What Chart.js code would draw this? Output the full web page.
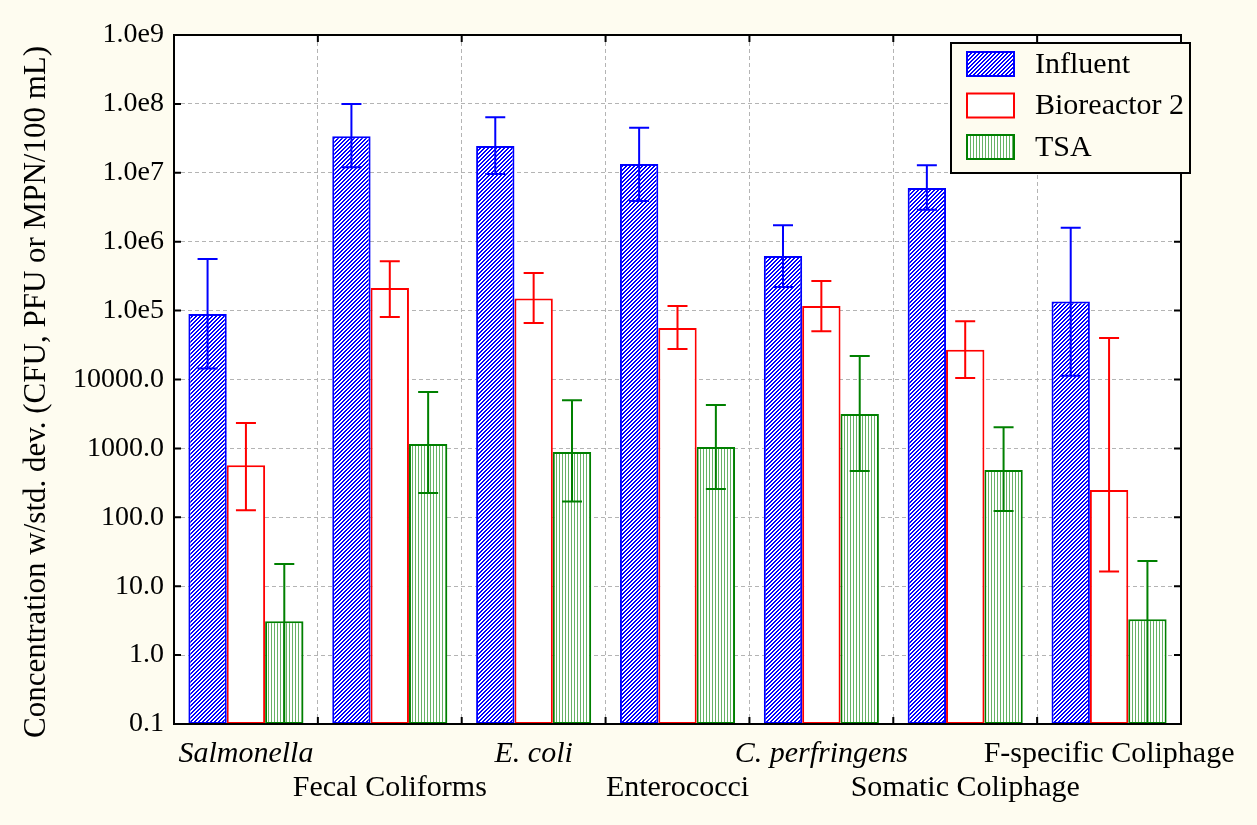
<!DOCTYPE html>
<html>
<head>
<meta charset="utf-8">
<script src="https://cdn.jsdelivr.net/npm/chart.js@4.4.1/dist/chart.umd.min.js"></script>
<style>
  html,body{margin:0;padding:0;background:#fefcf0;}
</style>
</head>
<body>
<canvas id="bacteriaChart" width="1257" height="825"></canvas>
<script>
const categories = ['Salmonella','Fecal Coliforms','E. coli','Enterococci','C. perfringens','Somatic Coliphage','F-specific Coliphage']
const italicCats = [true,false,true,false,true,false,false]
const seriesNames = ['Influent','Bioreactor 2','TSA']

const influent   = [8.9e4, 3.4e7, 2.45e7, 1.34e7, 6.2e5, 6.0e6, 1.35e5]
const influentHi = [5.6e5, 1.0e8, 6.4e7, 4.5e7, 1.74e6, 1.29e7, 1.6e6]
const influentLo = [1.45e4, 1.2e7, 9.6e6, 3.9e6, 2.2e5, 2.9e6, 1.13e4]

const bioreactor   = [570, 2.13e5, 1.5e5, 5.6e4, 1.17e5, 2.7e4, 250]
const bioreactorHi = [2330, 5.2e5, 3.5e5, 1.17e5, 2.7e5, 7.0e4, 4.0e4]
const bioreactorLo = [127, 8.1e4, 6.6e4, 2.76e4, 5.0e4, 1.05e4, 16.4]

const tsa   = [3.1, 1160, 890, 1050, 3150, 485, 3.3]
const tsaHi = [21, 6600, 5000, 4260, 2.2e4, 2030, 23.3]
const tsaLo = [0, 225, 170, 257, 468, 123, 0]   // 0 -> lower bar runs off the axis

const yTickValues = [0.1,1,10,100,1000,1e4,1e5,1e6,1e7,1e8,1e9]
const yTickLabels = ['0.1','1.0','10.0','100.0','1000.0','10000.0','1.0e5','1.0e6','1.0e7','1.0e8','1.0e9']

const FONT = "'Liberation Serif', 'Times New Roman', serif"
const BG = '#fefcf0'

// fill patterns, drawn pixel by pixel so they stay crisp
function hatchPattern(){
  const c = document.createElement('canvas')
  c.width = 4; c.height = 4
  const g = c.getContext('2d')
  g.fillStyle = '#ffffff'
  g.fillRect(0,0,4,4)
  g.fillStyle = '#0000ff'
  for(let k=0;k<4;k++){
    g.fillRect(3-k,k,1,1)
    g.fillRect((4-k)%4,k,1,1)
  }
  const p = document.createElement('canvas').getContext('2d')
  return p.createPattern(c,'repeat')
}
function stripePattern(){
  const c = document.createElement('canvas')
  c.width = 3; c.height = 4
  const g = c.getContext('2d')
  g.fillStyle = '#ffffff'
  g.fillRect(0,0,3,4)
  g.fillStyle = 'rgba(0,128,0,0.6)'
  g.fillRect(1,0,1,4)
  const p = document.createElement('canvas').getContext('2d')
  return p.createPattern(c,'repeat')
}
const blueFill = hatchPattern()
const greenFill = stripePattern()

const fills = [blueFill, '#ffffff', greenFill]
const lines = ['#0000ff', '#ff0000', '#008000']
const highs = [influentHi, bioreactorHi, tsaHi]
const lows = [influentLo, bioreactorLo, tsaLo]

const plotBg = {
  id:'plotBg',
  beforeDraw(chart){
    const a = chart.chartArea, ctx = chart.ctx
    ctx.save()
    ctx.fillStyle = '#ffffff'
    ctx.fillRect(a.left, a.top, a.right-a.left, a.bottom-a.top)
    ctx.restore()
  }
}

const errorBars = {
  id:'errorBars',
  afterDatasetsDraw(chart){
    const ctx = chart.ctx, ys = chart.scales.y, a = chart.chartArea
    ctx.save()
    chart.data.datasets.forEach((ds,i) => {
      const meta = chart.getDatasetMeta(i)
      ctx.strokeStyle = lines[i]
      ctx.lineWidth = 2
      meta.data.forEach((bar,j) => {
        const x = bar.x
        const yh = ys.getPixelForValue(highs[i][j])
        const clipped = !(lows[i][j] > 0)
        const yl = clipped ? a.bottom : ys.getPixelForValue(lows[i][j])
        ctx.beginPath()
        ctx.moveTo(x,yh); ctx.lineTo(x,yl)
        ctx.moveTo(x-10,yh); ctx.lineTo(x+10,yh)
        if(!clipped){ ctx.moveTo(x-10,yl); ctx.lineTo(x+10,yl) }
        ctx.stroke()
      })
    })
    ctx.restore()
  }
}

const frame = {
  id:'frame',
  afterDraw(chart){
    const ctx = chart.ctx, a = chart.chartArea
    const ys = chart.scales.y, xs = chart.scales.x
    ctx.save()
    ctx.strokeStyle = '#000'
    ctx.lineWidth = 2
    ctx.strokeRect(a.left, a.top, a.right-a.left, a.bottom-a.top)
    ctx.beginPath()
    yTickValues.forEach(v => {
      const py = ys.getPixelForValue(v)
      ctx.moveTo(a.left,py); ctx.lineTo(a.left+7,py)
      ctx.moveTo(a.right,py); ctx.lineTo(a.right-7,py)
    })
    for(let i=1;i<categories.length;i++){
      const px = (xs.getPixelForValue(i-1)+xs.getPixelForValue(i))/2
      ctx.moveTo(px,a.bottom); ctx.lineTo(px,a.bottom-7)
      ctx.moveTo(px,a.top); ctx.lineTo(px,a.top+7)
    }
    ctx.stroke()

    // category labels, staggered on two rows
    ctx.fillStyle = '#000'
    ctx.textAlign = 'center'
    ctx.textBaseline = 'middle'
    categories.forEach((c,i) => {
      ctx.font = (italicCats[i] ? 'italic ' : '') + '30px ' + FONT
      const px = xs.getPixelForValue(i)
      ctx.fillText(c, px, i%2===0 ? a.bottom+30 : a.bottom+64)
    })

    // y title
    ctx.save()
    ctx.translate(37, 392)
    ctx.rotate(-Math.PI/2)
    ctx.font = '31px ' + FONT
    ctx.fillText('Concentration w/std. dev. (CFU, PFU or MPN/100 mL)', 0, 0)
    ctx.restore()

    // legend
    const lx = 951, ly = 43
    ctx.fillStyle = BG
    ctx.fillRect(lx, ly, 239, 130)
    ctx.strokeStyle = '#000'
    ctx.lineWidth = 2
    ctx.strokeRect(lx, ly, 239, 130)
    ctx.textAlign = 'left'
    ctx.font = '30px ' + FONT
    seriesNames.forEach((s,i) => {
      const sy = ly + 9 + i*41.5
      ctx.fillStyle = fills[i]
      ctx.fillRect(lx+16, sy, 47, 24)
      ctx.strokeStyle = lines[i]
      ctx.strokeRect(lx+16, sy, 47, 24)
      ctx.fillStyle = '#000'
      ctx.fillText(s, lx+84, sy+13)
    })
    ctx.restore()
  }
}

const canvas = document.getElementById('bacteriaChart')
const myChart = new Chart(canvas, {
  type:'bar',
  data:{
    labels:categories,
    datasets:seriesNames.map((name,i) => ({
      label:name,
      data:[influent, bioreactor, tsa][i],
      backgroundColor:fills[i],
      borderColor:lines[i],
      borderWidth:2,
      borderSkipped:false,
      categoryPercentage:0.8,
      barPercentage:1.0
    }))
  },
  options:{
    responsive:false,
    animation:false,
    devicePixelRatio:1,
    layout:{ padding:{ top:35, right:76, left:0, bottom:0 } },
    plugins:{ legend:{ display:false }, tooltip:{ enabled:false } },
    scales:{
      x:{
        grid:{ color:'#b4b4b4', lineWidth:1, offset:true, drawTicks:false },
        border:{ display:false, dash:[4,3] },
        ticks:{ display:false },
        afterFit(scale){ scale.height = 101 }
      },
      y:{
        type:'logarithmic',
        min:0.1,
        max:1e9,
        grid:{ color:'#b4b4b4', lineWidth:1, drawTicks:false },
        border:{ display:false, dash:[4,3] },
        afterBuildTicks(scale){ scale.ticks = yTickValues.map(v => ({ value:v })) },
        ticks:{
          color:'#000',
          padding:10,
          font:{ family:FONT, size:28 },
          callback:(v,i) => yTickLabels[i]
        },
        afterFit(scale){ scale.width = 174 }
      }
    }
  },
  plugins:[plotBg, errorBars, frame]
})
</script>
</body>
</html>
